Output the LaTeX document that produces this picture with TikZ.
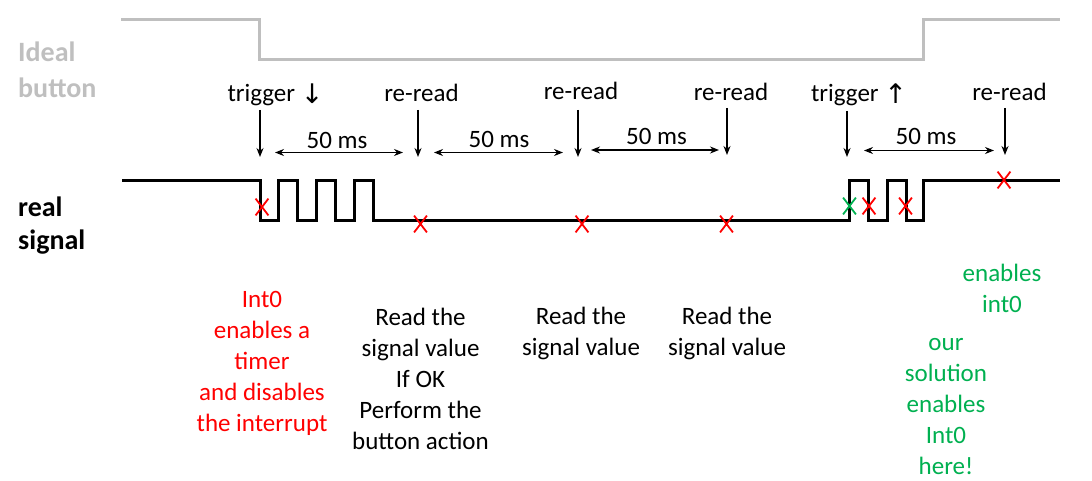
\documentclass[tikz,border=0pt]{standalone}
\usepackage{fontspec}
\setmainfont{Carlito}
\newfontfamily\symf{DejaVu Sans}
\usetikzlibrary{arrows.meta,shapes.misc}
\definecolor{idealgray}{RGB}{191,191,191}
\definecolor{okgreen}{RGB}{0,176,80}
\definecolor{errred}{RGB}{255,0,0}
\newcommand{\mlines}[1]{\begin{tabular}[t]{@{}c@{}}#1\end{tabular}}
\newcommand{\llines}[1]{\begin{tabular}[t]{@{}l@{}}#1\end{tabular}}
\begin{document}
\begin{tikzpicture}[x=1pt,y=-1pt,
  lbl/.style={inner sep=0pt,anchor=base,font=\fontsize{25}{31}\selectfont},
  side/.style={inner sep=0pt,anchor=base west,font=\fontsize{28}{33.5}\selectfont\bfseries},
  wave/.style={line width=3pt,line join=miter},
  arr/.style={line width=1.4pt,-{Stealth[length=9pt,width=7pt]}},
  darr/.style={line width=1.4pt,{Stealth[length=9pt,width=7pt]}-{Stealth[length=9pt,width=7pt]}},
  xmark/.style={cross out,draw=#1,line width=1.8pt,minimum width=11pt,minimum height=15pt,inner sep=0pt},
]
\useasboundingbox (0,0) rectangle (1092,481);

% ideal button waveform
\draw[wave,idealgray] (121,20) -- (259,20) -- (259,60) -- (923,60) -- (923,20) -- (1060,20);
\node[side,text=idealgray] (ideal) at (18,62) {\llines{Ideal\\[2pt]button}};

% real signal waveform
\draw[wave] (122,181) -- (260,181) -- (260,221) -- (278,221) -- (278,181)
  -- (297,181) -- (297,221) -- (316,221) -- (316,181) -- (335,181) -- (335,221)
  -- (354,221) -- (354,181) -- (373,181) -- (373,221) -- (849,221) -- (849,181)
  -- (868,181) -- (868,221) -- (887,221) -- (887,181) -- (906,181) -- (906,221)
  -- (923,221) -- (923,181) -- (1060,181);
\node[side] (real) at (18,216) {\llines{real\\[-0.5pt]signal}};

% X marks
\node[xmark=errred] (x1) at (262,207) {};
\node[xmark=errred] (x2) at (420.5,224) {};
\node[xmark=errred] (x3) at (582,224) {};
\node[xmark=errred] (x4) at (726.5,224) {};
\node[xmark=okgreen] (x5) at (849.5,206) {};
\node[xmark=errred] (x6) at (869,206) {};
\node[xmark=errred] (x7) at (905.5,206) {};
\node[xmark=errred] (x8) at (1004,180) {};

% top labels
\node[lbl] (trig1) at (275.5,102) {trigger {\symf\fontsize{27}{30}\selectfont\raisebox{-1.5pt}{↓}}};
\node[lbl] (rr1) at (421.5,102) {re-read};
\node[lbl] (rr2) at (581,99.5) {re-read};
\node[lbl] (rr3) at (731,101) {re-read};
\node[lbl] (trig2) at (859,102) {trigger {\symf\fontsize{27}{30}\selectfont\raisebox{-1.5pt}{↑}}};
\node[lbl] (rr4) at (1009.5,100.5) {re-read};

% down arrows
\coordinate (a1t) at (260,110); \coordinate (a1b) at (260,157);
\coordinate (a2t) at (418,110); \coordinate (a2b) at (418,157);
\coordinate (a3t) at (578,110); \coordinate (a3b) at (578,157);
\coordinate (a4t) at (727,108); \coordinate (a4b) at (727,155);
\coordinate (a5t) at (847,111); \coordinate (a5b) at (847,157);
\coordinate (a6t) at (1005,108); \coordinate (a6b) at (1005,155);
\draw[arr] (a1t) -- (a1b);
\draw[arr] (a2t) -- (a2b);
\draw[arr] (a3t) -- (a3b);
\draw[arr] (a4t) -- (a4b);
\draw[arr] (a5t) -- (a5b);
\draw[arr] (a6t) -- (a6b);

% 50 ms intervals
\coordinate (d1l) at (275,152.5); \coordinate (d1r) at (403,152.5);
\coordinate (d2l) at (434,152.5); \coordinate (d2r) at (563,152.5);
\coordinate (d3l) at (591,150); \coordinate (d3r) at (719,150);
\coordinate (d4l) at (864,150.5); \coordinate (d4r) at (994,150.5);
\draw[darr] (d1l) -- (d1r);
\draw[darr] (d2l) -- (d2r);
\draw[darr] (d3l) -- (d3r);
\draw[darr] (d4l) -- (d4r);
\node[lbl] (ms1) at (337,149) {50 ms};
\node[lbl] (ms2) at (499,147.5) {50 ms};
\node[lbl] (ms3) at (656.5,145) {50 ms};
\node[lbl] (ms4) at (926,145) {50 ms};

% bottom explanations
\node[lbl,text=errred] (int0) at (262,307.5)
  {\mlines{Int0\\enables a\\timer\\and disables\\the interrupt}};
\node[lbl] (read1) at (420.5,325)
  {\mlines{Read the\\signal value\\If OK\\Perform the\\button action}};
\node[lbl] (read2) at (581,324) {\mlines{Read the\\signal value}};
\node[lbl] (read3) at (727,324) {\mlines{Read the\\signal value}};
\node[lbl,text=okgreen] (en) at (1002,281.5) {\mlines{enables\\int0}};
\node[lbl,text=okgreen] (ours) at (946,350)
  {\mlines{our\\solution\\enables\\Int0\\here!}};
\end{tikzpicture}
\end{document}
